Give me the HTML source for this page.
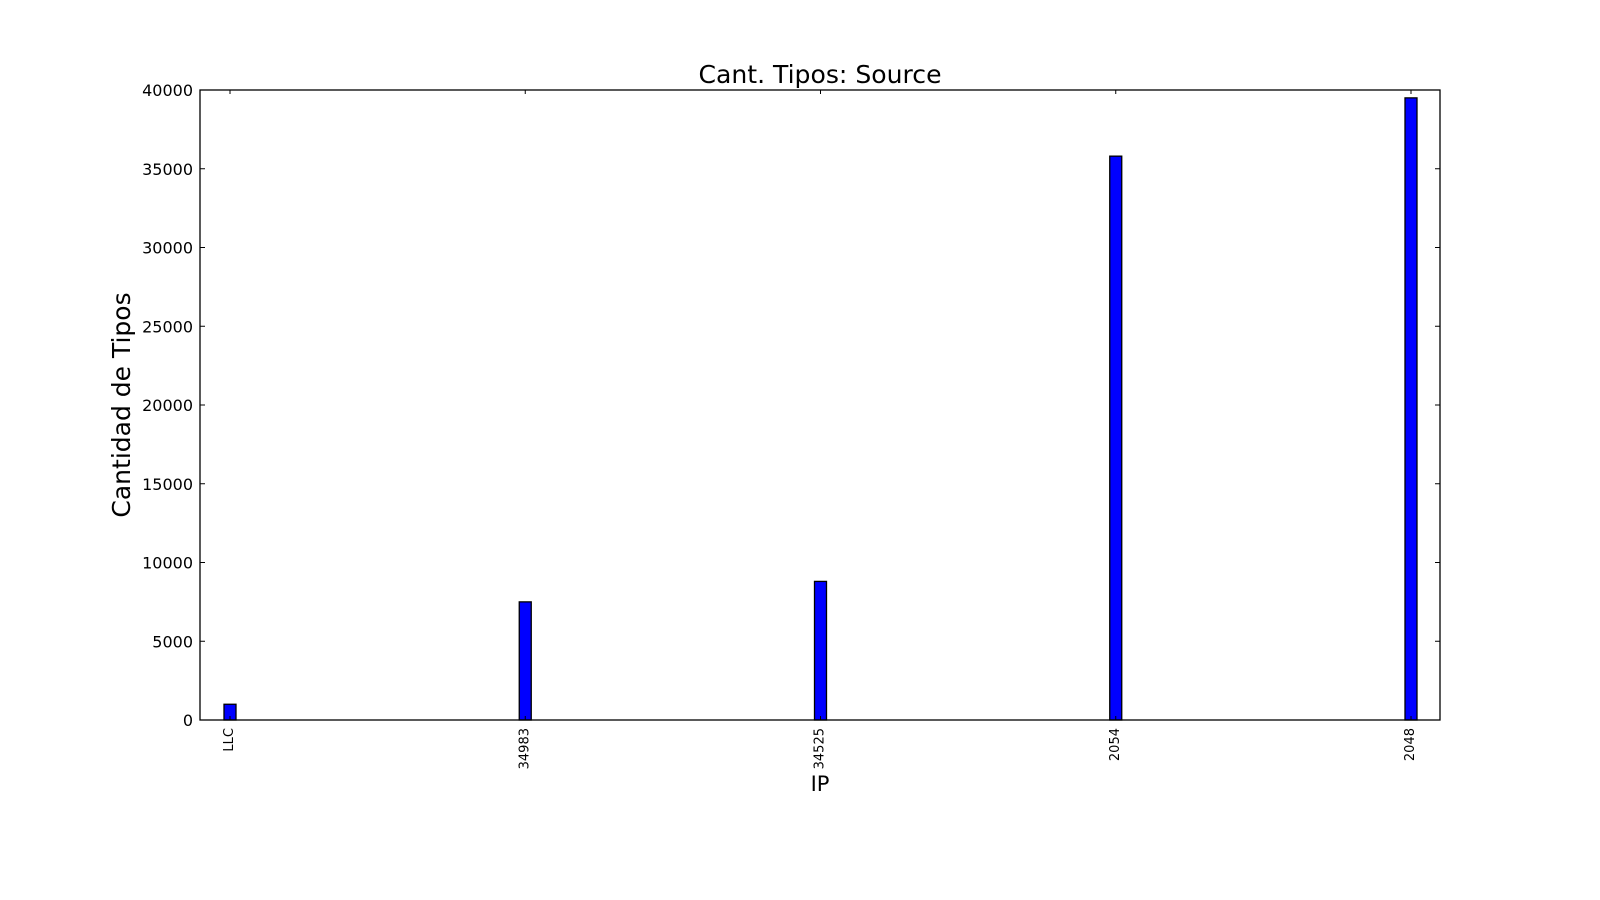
<!DOCTYPE html>
<html><head><meta charset="utf-8"><style>
body{margin:0;background:#fff;}
svg{display:block;font-family:"DejaVu Sans","Liberation Sans",sans-serif;}
</style></head><body>
<svg id="chart" width="1600" height="900">
<rect width="1600" height="900" fill="#fff"/>
<text x="820" y="83" font-size="25.1" text-anchor="middle">Cant. Tipos: Source</text>
<text x="820" y="791" font-size="21" text-anchor="middle">IP</text>
<text transform="translate(130,405) rotate(-90)" font-size="25" text-anchor="middle">Cantidad de Tipos</text>
<g id="bars"></g>
<g id="axes"></g>
<rect x="200" y="90" width="1240" height="630" fill="none" stroke="#000" stroke-width="1.3"/>
</svg>
<script>
const categories = ["LLC","34983","34525","2054","2048"];
const values = [1000,7500,8800,35800,39500];
const yTicks = [0,5000,10000,15000,20000,25000,30000,35000,40000];
const NS="http://www.w3.org/2000/svg";
const L=200,R=1440,T=90,B=720,yMax=40000;
function yScale(v){return B-(v/yMax)*(B-T);}
function xScale(i){return 230+i*(1411-230)/(categories.length-1);}
const bars=document.getElementById('bars'),axes=document.getElementById('axes');
function mk(tag,attrs,parent){const e=document.createElementNS(NS,tag);for(const k in attrs)e.setAttribute(k,attrs[k]);parent.appendChild(e);return e;}
categories.forEach((c,i)=>{
  const x=xScale(i),y=yScale(values[i]);
  const r=mk('rect',{x:x-6,y:y,width:12,height:B-y,fill:'#0000ff',stroke:'#000','stroke-width':1.3},bars);
  
  
  mk('line',{x1:x,x2:x,y1:B,y2:B-4,stroke:'#000'},axes);
  mk('line',{x1:x,x2:x,y1:T,y2:T+4,stroke:'#000'},axes);
  const t=mk('text',{transform:`translate(${x+3},${B+8}) rotate(-90)`,'font-size':13,'text-anchor':'end'},axes);
  t.textContent=c;
  
  
});
yTicks.forEach(v=>{
  const y=yScale(v);
  mk('line',{x1:L,x2:L+5,y1:y,y2:y,stroke:'#000'},axes);
  mk('line',{x1:R,x2:R-5,y1:y,y2:y,stroke:'#000'},axes);
  const t=mk('text',{x:L-7,y:y+6,'font-size':16,'text-anchor':'end'},axes);
  t.textContent=v;
  
  
});
</script>
</body></html>
